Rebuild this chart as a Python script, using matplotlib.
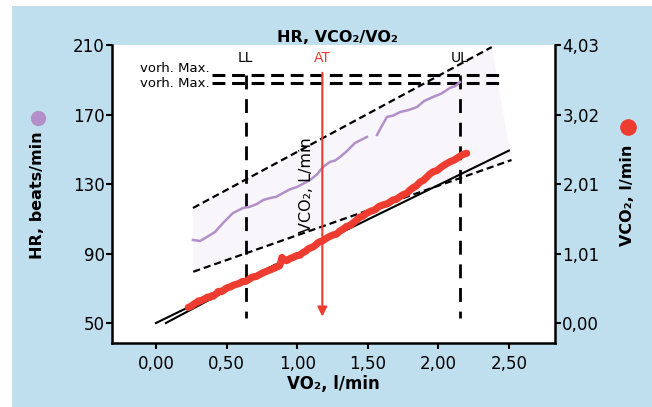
import matplotlib
matplotlib.use("Agg")
import matplotlib.pyplot as plt
from matplotlib.patches import Rectangle, Polygon

plt.rcParams['font.family'] = ['DejaVu Sans']

# ---- data ----
vo2_ticks = [0.0, 0.5, 1.0, 1.5, 2.0, 2.5]
vo2_tick_labels = ['0,00', '0,50', '1,00', '1,50', '2,00', '2,50']
hr_ticks = [50, 90, 130, 170, 210]
vco2_ticks = [0.0, 1.0075, 2.015, 3.0225, 4.03]
vco2_tick_labels = ['0,00', '1,01', '2,01', '3,02', '4,03']

# heart rate vs VO2 (two segments, gap in recording)
hr_vo2_a = [0.262, 0.312, 0.36, 0.418, 0.48, 0.545, 0.616, 0.66, 0.715, 0.76, 0.807, 0.85,
            0.899, 0.95, 0.999, 1.05, 1.091, 1.14, 1.183, 1.232, 1.27, 1.303, 1.35, 1.409, 1.494]
hr_a = [97.8, 97.2, 99.5, 102.4, 108.0, 113.3, 116.2, 116.8, 118.5, 120.8, 121.9, 122.6,
        124.8, 127.0, 128.3, 130.5, 132.3, 135.5, 139.8, 142.7, 143.6, 145.5, 148.8, 153.6, 157.1]
hr_vo2_b = [1.565, 1.60, 1.636, 1.68, 1.728, 1.79, 1.848, 1.90, 1.962, 2.02, 2.082, 2.12, 2.153]
hr_b = [158.2, 163.5, 168.6, 169.4, 171.4, 172.6, 174.3, 177.8, 180.1, 182.0, 185.3, 186.4, 188.7]

# VCO2 vs VO2 breath-by-breath
vco2_vo2 = [0.229, 0.245, 0.26, 0.275, 0.29, 0.30, 0.312, 0.33, 0.35, 0.365, 0.38, 0.395,
            0.406, 0.42, 0.43, 0.44, 0.453, 0.465, 0.48, 0.495, 0.51, 0.53, 0.547, 0.565,
            0.59, 0.61, 0.637, 0.66, 0.68, 0.71, 0.737, 0.76, 0.79, 0.815, 0.843, 0.865,
            0.875, 0.885, 0.892, 0.90, 0.926, 0.95, 0.97, 0.995, 1.020, 1.04, 1.06, 1.075,
            1.091, 1.11, 1.13, 1.145, 1.161, 1.18, 1.20, 1.225, 1.254, 1.28, 1.30, 1.325,
            1.35, 1.375, 1.395, 1.42, 1.44, 1.465, 1.492, 1.52, 1.55, 1.58, 1.608, 1.64,
            1.678, 1.70, 1.72, 1.75, 1.776, 1.80, 1.82, 1.845, 1.870, 1.895, 1.92, 1.94,
            1.964, 1.99, 2.02, 2.05, 2.082, 2.11, 2.14, 2.17, 2.200]
vco2 = [0.226, 0.24, 0.26, 0.285, 0.295, 0.32, 0.318, 0.335, 0.355, 0.375, 0.37, 0.395,
        0.39, 0.415, 0.43, 0.455, 0.46, 0.455, 0.475, 0.50, 0.515, 0.525, 0.548, 0.558,
        0.575, 0.60, 0.605, 0.635, 0.665, 0.675, 0.705, 0.73, 0.755, 0.775, 0.80, 0.82,
        0.83, 0.89, 0.95, 0.92, 0.905, 0.935, 0.95, 0.975, 0.984, 1.02, 1.04, 1.07,
        1.087, 1.10, 1.13, 1.16, 1.179, 1.19, 1.22, 1.25, 1.276, 1.29, 1.33, 1.36,
        1.40, 1.415, 1.450, 1.49, 1.53, 1.55, 1.590, 1.62, 1.64, 1.69, 1.711, 1.73,
        1.783, 1.79, 1.82, 1.86, 1.880, 1.93, 1.96, 1.99, 2.044, 2.07, 2.12, 2.16,
        2.193, 2.21, 2.26, 2.30, 2.338, 2.36, 2.40, 2.44, 2.460]

# reference lines
rer1_vo2 = [0.0, 2.5]
rer1_vco2 = [0.0, 2.5]
s1_vo2 = [0.07, 0.84]
s1_vco2 = [0.0, 0.84]
band_upper_vo2 = [0.262, 2.378]
band_upper_hr = [116.2, 208.8]
band_lower_vo2 = [0.264, 2.518]
band_lower_hr = [79.5, 143.8]

hr_max_lines = [192.7, 188.3]
max_line_vo2 = [0.40, 2.465]
ll_vo2 = 0.635
ul_vo2 = 2.153
at_vo2 = 1.178
vline_bottom = 52.7

BLUE_BG = '#bfdfee'
RED = '#ee3d30'
PURPLE = '#b28fc8'
SHADE = '#f8f6fb'

fig = plt.figure(figsize=(6.52, 4.07), dpi=100, facecolor='white')
fig.patches.append(Rectangle((12 / 652, 0), 1 - 12 / 652, 1 - 6 / 407,
                             transform=fig.transFigure, facecolor=BLUE_BG,
                             edgecolor='none', zorder=-10))

ax = fig.add_axes([112 / 652, 64 / 407, 443 / 652, 298 / 407])
ax.set_facecolor('white')
ax.set_xlim(-0.3116, 2.8258)
ax.set_ylim(38.5, 210)
ax2 = ax.twinx()
ax2.set_ylim((38.5 - 50) / 160 * 4.03, 4.03)

for a in (ax, ax2):
    for s in a.spines.values():
        s.set_visible(False)
    a.tick_params(length=4.3, width=1.5, labelsize=12, pad=1)
ax.spines['left'].set_visible(True)
ax.spines['bottom'].set_visible(True)
ax2.spines['right'].set_visible(True)
for s in (ax.spines['left'], ax.spines['bottom'], ax2.spines['right']):
    s.set_linewidth(1.8)

ax.set_xticks(vo2_ticks)
ax.set_xticklabels(vo2_tick_labels)
ax.tick_params(axis='x', pad=4)
ax.set_yticks(hr_ticks)
ax2.set_yticks(vco2_ticks)
ax2.set_yticklabels(vco2_tick_labels)

# shaded band between envelope lines
band = Polygon([(band_upper_vo2[0], band_upper_hr[0]), (band_upper_vo2[1], band_upper_hr[1]),
                (band_lower_vo2[1], band_lower_hr[1]), (band_lower_vo2[0], band_lower_hr[0])],
               closed=True, facecolor=SHADE, edgecolor='none', zorder=0)
ax.add_patch(band)
ax.plot(band_upper_vo2, band_upper_hr, color='black', lw=1.6, dashes=(3.2, 1.8), zorder=2)
ax.plot(band_lower_vo2, band_lower_hr, color='black', lw=1.6, dashes=(3.2, 1.8), zorder=2)

# predicted maxima
for y in hr_max_lines:
    ax.plot(max_line_vo2, [y, y], color='black', lw=2.2, dashes=(4.2, 2.2), zorder=2)
ax.text(0.38, 196.3, 'vorh. Max.', ha='right', va='center', fontsize=9.5)
ax.text(0.38, 187.6, 'vorh. Max.', ha='right', va='center', fontsize=9.5)

# LL / UL thresholds
for xv in (ll_vo2, ul_vo2):
    ax.plot([xv, xv], [hr_max_lines[0], vline_bottom], color='black', lw=2.0,
            dashes=(5, 3.5), zorder=2)
ax.text(ll_vo2, 202.5, 'LL', ha='center', va='center', fontsize=10)
ax.text(ul_vo2, 202.5, 'UL', ha='center', va='center', fontsize=10)
ax.text(at_vo2, 202.5, 'AT', ha='center', va='center', fontsize=10, color=RED)

# heart rate
ax.plot(hr_vo2_a, hr_a, color=PURPLE, lw=1.8, zorder=3)
ax.plot(hr_vo2_b, hr_b, color=PURPLE, lw=1.8, zorder=3)

ax.text(1.069, 129.4, 'VCO₂, L/min', rotation=90, ha='center', va='center',
        fontsize=11.5, zorder=5)

# VCO2 and reference slopes
ax2.plot(rer1_vo2, rer1_vco2, color='black', lw=1.5, zorder=2)
ax2.plot(s1_vo2, s1_vco2, color='black', lw=1.5, zorder=2)
ax2.plot(vco2_vo2, vco2, color=RED, lw=5.2, solid_capstyle='round',
         solid_joinstyle='round', zorder=3)

# anaerobic threshold arrow
ax2.annotate('', xy=(at_vo2, (53.7 - 50) / 160 * 4.03),
             xytext=(at_vo2, (194 - 50) / 160 * 4.03),
             arrowprops=dict(arrowstyle='-|>', color=RED, lw=1.5,
                             mutation_scale=14, shrinkA=0, shrinkB=0), zorder=4)

ax.set_xlabel('VO₂, l/min', fontsize=12, fontweight='bold', labelpad=2)
fig.text(337 / 652, 1 - 37 / 407, 'HR, VCO₂/VO₂', ha='center', va='center',
         fontsize=11.5, fontweight='bold')
fig.text(38 / 652, 1 - 195 / 407, 'HR, beats/min', rotation=90, ha='center',
         va='center', fontsize=11.5, fontweight='bold')
fig.text(628 / 652, 1 - 195 / 407, 'VCO₂, l/min', rotation=90, ha='center',
         va='center', fontsize=11.5, fontweight='bold')
fig.lines.append(plt.Line2D([38 / 652], [1 - 118 / 407], transform=fig.transFigure,
                            marker='o', markersize=10, color=PURPLE, linestyle='none'))
fig.lines.append(plt.Line2D([628 / 652], [1 - 127 / 407], transform=fig.transFigure,
                            marker='o', markersize=11, color=RED, linestyle='none'))

fig.savefig('out.png', dpi=100, facecolor='white')
